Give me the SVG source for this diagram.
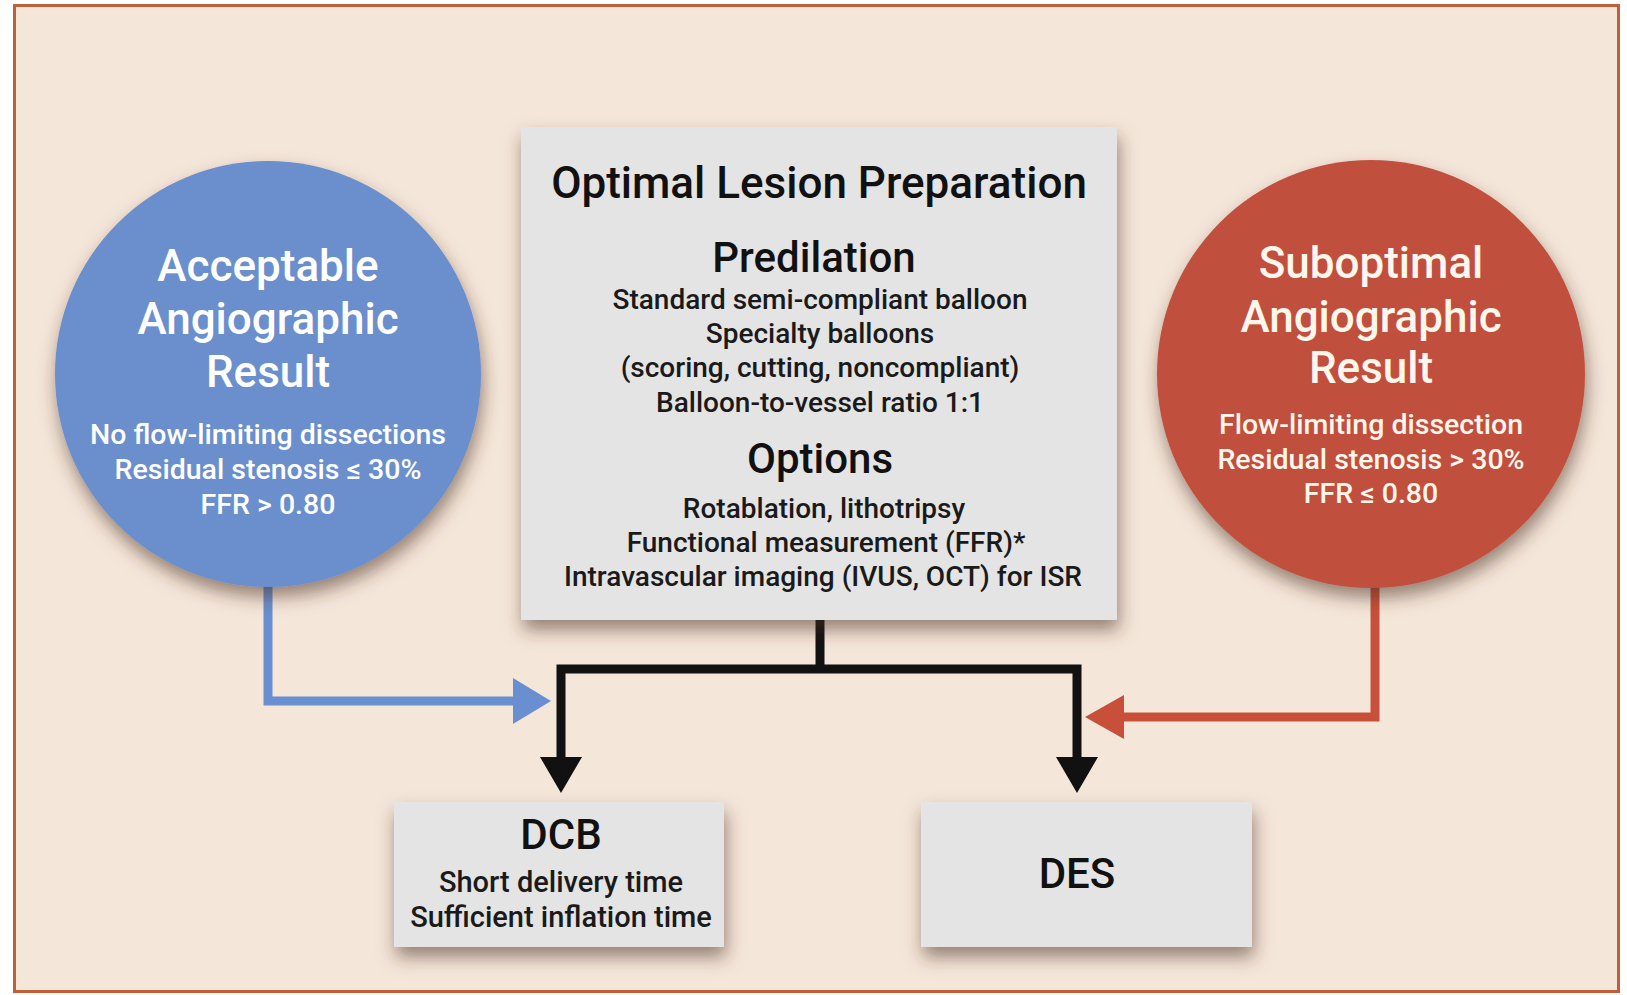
<svg xmlns="http://www.w3.org/2000/svg" width="1627" height="995" viewBox="0 0 1627 995">
  <defs>
    <filter id="shadow" x="-20%" y="-20%" width="140%" height="150%">
      <feDropShadow dx="2" dy="10" stdDeviation="9" flood-color="#4a3020" flood-opacity="0.55"/>
    </filter>
    <style>
      .frame { fill: #F5E6DA; stroke: #C0603A; stroke-width: 3; }
      .box { fill: #E4E4E4; filter: url(#shadow); }
      .blue { fill: #6A8FCC; filter: url(#shadow); }
      .red { fill: #C1503D; filter: url(#shadow); }
      text { font-family: Roboto, "Open Sans", "Liberation Sans", sans-serif; text-anchor: middle; }
      .h1 { font-size: 44px; font-weight: 500; fill: #111; }
      .h2 { font-size: 42px; font-weight: 500; fill: #111; }
      .b { font-size: 28px; font-weight: 500; fill: #1a1a1a; }
      .d { font-size: 29px; }
      .ct { font-size: 44px; font-weight: 500; fill: #FFFFFF; }
      .cs { font-size: 28.5px; font-weight: 500; fill: #FFFFFF; }
      .cr { fill: #FFF6EC; }
      .blk { stroke: #111; stroke-width: 9; fill: none; }
      .bl { stroke: #6A8FD0; stroke-width: 9; fill: none; }
      .rd { stroke: #C8503A; stroke-width: 9; fill: none; }
    </style>
  </defs>
  <rect x="0" y="0" width="1627" height="995" fill="#FFFFFF"/>
  <rect class="frame" x="14.5" y="5.5" width="1604" height="986"/>

  <g id="connectors">
    <polyline class="bl" points="268,580 268,701 515,701"/>
    <polygon points="513,678 551,701 513,724" fill="#6A8FD0"/>
    <polyline class="rd" points="1375,580 1375,717 1122,717"/>
    <polygon points="1124,695 1085,717 1124,739" fill="#C8503A"/>
    <polyline class="blk" points="820,618 820,669"/>
    <polyline class="blk" points="561,759 561,669 1077,669 1077,759"/>
    <polygon points="540,757 582,757 561,793" fill="#111"/>
    <polygon points="1056,757 1098,757 1077,793" fill="#111"/>
  </g>

  <g id="acceptable">
    <circle class="blue" cx="268" cy="374" r="213"/>
    <text class="ct" x="268" y="281">Acceptable</text>
    <text class="ct" x="268" y="334">Angiographic</text>
    <text class="ct" x="268" y="387">Result</text>
    <text class="cs" x="268" y="444">No flow-limiting dissections</text>
    <text class="cs" x="268" y="479">Residual stenosis ≤ 30%</text>
    <text class="cs" x="268" y="514">FFR &gt; 0.80</text>
  </g>

  <g id="suboptimal">
    <circle class="red" cx="1371" cy="374" r="214"/>
    <text class="ct cr" x="1371" y="278">Suboptimal</text>
    <text class="ct cr" x="1371" y="332">Angiographic</text>
    <text class="ct cr" x="1371" y="383">Result</text>
    <text class="cs cr" x="1371" y="434">Flow-limiting dissection</text>
    <text class="cs cr" x="1371" y="469">Residual stenosis &gt; 30%</text>
    <text class="cs cr" x="1371" y="503">FFR ≤ 0.80</text>
  </g>

  <g id="preparation">
    <rect class="box" x="521" y="127" width="596" height="493"/>
    <text class="h1" x="819" y="198">Optimal Lesion Preparation</text>
    <text class="h2" x="814" y="272">Predilation</text>
    <text class="b" x="820" y="309">Standard semi-compliant balloon</text>
    <text class="b" x="820" y="343">Specialty balloons</text>
    <text class="b" x="820" y="377">(scoring, cutting, noncompliant)</text>
    <text class="b" x="820" y="412">Balloon-to-vessel ratio 1:1</text>
    <text class="h2" x="820" y="473">Options</text>
    <text class="b" x="824" y="518">Rotablation, lithotripsy</text>
    <text class="b" x="826" y="552">Functional measurement (FFR)*</text>
    <text class="b" x="823" y="586">Intravascular imaging (IVUS, OCT) for ISR</text>
  </g>

  <g id="dcb">
    <rect class="box" x="394" y="802" width="330" height="145"/>
    <text class="h2" x="561" y="849">DCB</text>
    <text class="b d" x="561" y="892">Short delivery time</text>
    <text class="b d" x="561" y="927">Sufficient inflation time</text>
  </g>

  <g id="des">
    <rect class="box" x="921" y="802" width="331" height="145"/>
    <text class="h2" x="1077" y="888">DES</text>
  </g>
</svg>
